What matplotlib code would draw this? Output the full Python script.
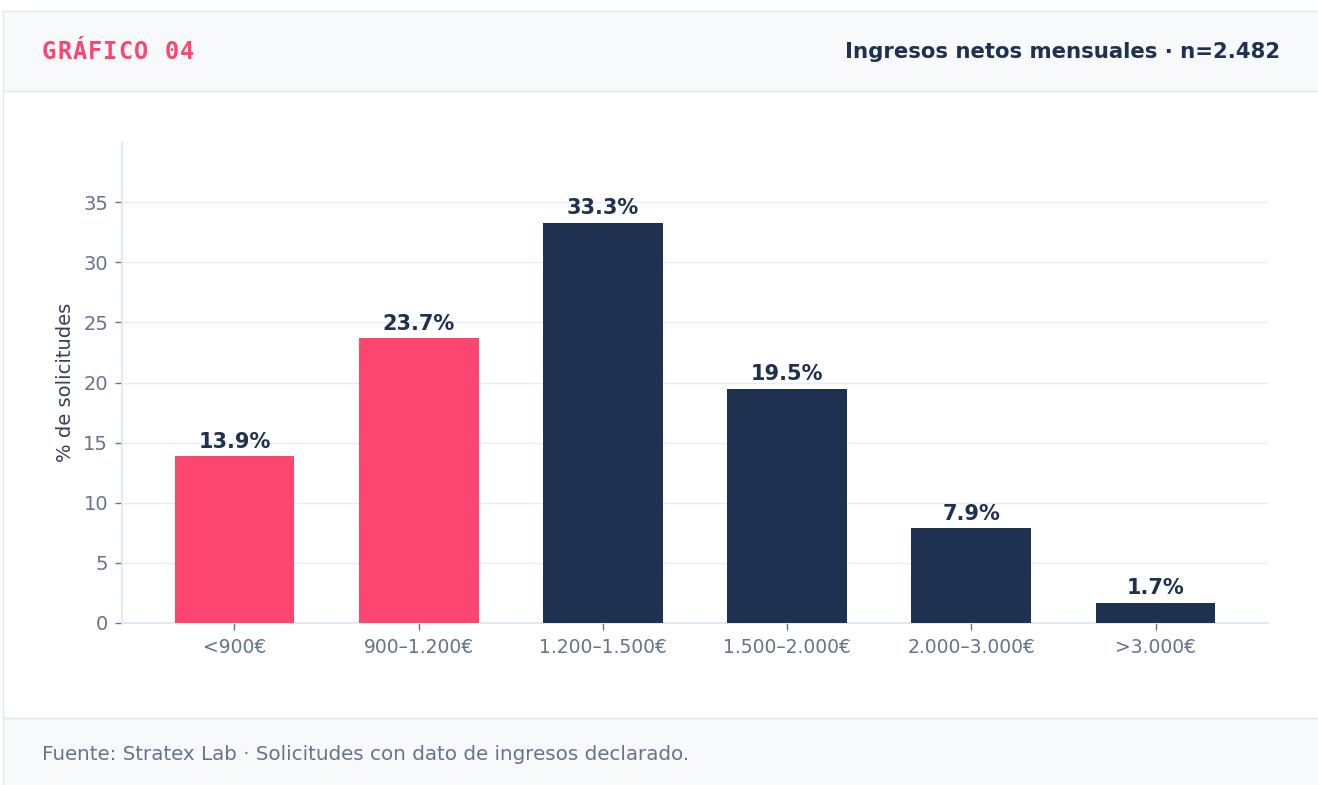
import matplotlib
matplotlib.use("Agg")
import matplotlib.pyplot as plt
from matplotlib.patches import Rectangle
import numpy as np

categories = ["<900€", "900–1.200€", "1.200–1.500€", "1.500–2.000€", "2.000–3.000€", ">3.000€"]
values = [13.9, 23.7, 33.3, 19.5, 7.9, 1.7]
highlight = [True, True, False, False, False, False]
yticks = [0, 5, 10, 15, 20, 25, 30, 35]

PINK = "#fc4670"
NAVY = "#1f3150"
GRAY_TXT = "#64748b"
PANEL = "#f8f9fb"
BORDER = "#e3e8ef"

W, H = 1318, 785
fig = plt.figure(figsize=(W / 100, H / 100), dpi=100)
fig.patch.set_facecolor("white")


def fx(px):
    return px / W


def fy(py):
    return 1 - py / H


# background panels, drawn beneath the axes
fig.add_artist(Rectangle((fx(3), fy(718)), fx(1330) - fx(3), fy(91) - fy(718),
                         transform=fig.transFigure, facecolor="white",
                         edgecolor=BORDER, linewidth=1, zorder=-10))
fig.add_artist(Rectangle((fx(3), fy(91)), 1.0, fy(11) - fy(91),
                         transform=fig.transFigure, facecolor=PANEL,
                         edgecolor=BORDER, linewidth=1, zorder=-10))
fig.add_artist(Rectangle((fx(3), fy(790)), 1.0, fy(718) - fy(790),
                         transform=fig.transFigure, facecolor=PANEL,
                         edgecolor=BORDER, linewidth=1, zorder=-10))

# header texts (letter-spaced mono label)
label = "GRÁFICO 04"
x0 = 42
for i, ch in enumerate(label):
    fig.text(fx(x0 + i * 15.3), fy(52), ch, family="DejaVu Sans Mono",
             fontweight="bold", fontsize=17, color=PINK, va="center", ha="left")

fig.text(fx(1280), fy(52), "Ingresos netos mensuales · n=2.482", fontweight="bold",
         fontsize=15.3, color=NAVY, ha="right", va="center")

fig.text(fx(42), fy(755), "Fuente: Stratex Lab · Solicitudes con dato de ingresos declarado.",
         fontsize=14.3, color=GRAY_TXT, ha="left", va="center")

ax = fig.add_axes([fx(122), fy(623), fx(1268) - fx(122), fy(142) - fy(623)])
ax.set_zorder(2)
ax.patch.set_alpha(0)
x = np.arange(len(categories))
colors = [PINK if h else NAVY for h in highlight]
bars = ax.bar(x, values, width=0.65, color=colors, zorder=3)

for xi, v in zip(x, values):
    ax.text(xi, v + 0.35, f"{v:.1f}%", ha="center", va="bottom", fontsize=15,
            fontweight="bold", color=NAVY, zorder=4)

ax.set_xlim(-0.61, 5.61)
ax.set_ylim(0, 40)
ax.set_yticks(yticks)
ax.set_xticks(x)
ax.set_xticklabels(categories)
ax.grid(axis="y", color="#e8edf3", linewidth=1, zorder=0)
ax.set_axisbelow(True)

for side in ["top", "right"]:
    ax.spines[side].set_visible(False)
ax.spines["left"].set_color("#dfe6ef")
ax.spines["bottom"].set_color("#dfe6ef")
ax.spines["left"].set_linewidth(1.2)
ax.spines["bottom"].set_linewidth(1.2)

ax.tick_params(axis="y", labelsize=14, colors=GRAY_TXT, length=5, width=1, pad=5)
ax.tick_params(axis="x", labelsize=13.5, colors=GRAY_TXT, length=5, width=1, pad=6)
for t in ax.get_xticklabels() + ax.get_yticklabels():
    t.set_color(GRAY_TXT)

ax.set_ylabel("% de solicitudes", fontsize=14, color="#334155", labelpad=6)

fig.savefig("out.png", dpi=100)
